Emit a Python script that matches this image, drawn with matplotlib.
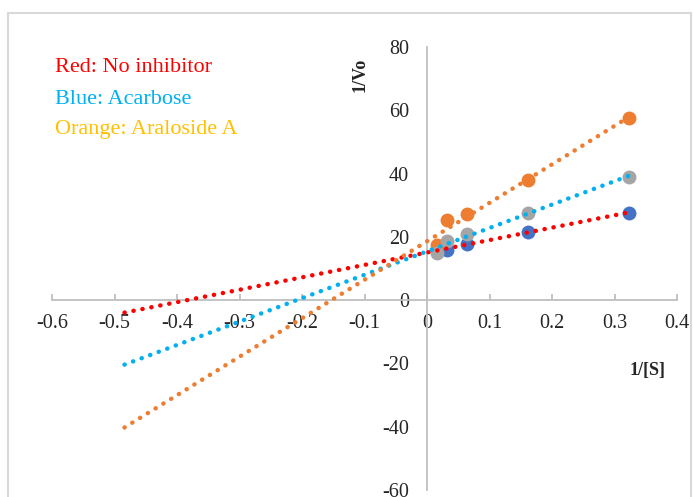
import numpy as np
import matplotlib
matplotlib.use("Agg")
import matplotlib.pyplot as plt
from matplotlib.patches import Rectangle

# ---- data ----
inv_s = [0.016, 0.032, 0.064, 0.161, 0.323]
no_inhibitor = [15.6, 16.0, 17.9, 21.6, 27.6]
acarbose = [15.0, 18.7, 20.8, 27.6, 39.0]
araloside_a = [17.3, 25.3, 27.2, 37.9, 57.7]

x_ticks = [-0.6, -0.5, -0.4, -0.3, -0.2, -0.1, 0, 0.1, 0.2, 0.3, 0.4]
x_tick_labels = ["-0.6", "-0.5", "-0.4", "-0.3", "-0.2", "-0.1", "0", "0.1", "0.2", "0.3", "0.4"]
y_ticks = [-60, -40, -20, 0, 20, 40, 60, 80]
y_tick_labels = ["-60", "-40", "-20", "0", "20", "40", "60", "80"]
legend_lines = ["Red: No inhibitor", "Blue: Acarbose", "Orange: Araloside A"]
backward_forecast = 0.5

plt.rcParams['font.family'] = ['Liberation Serif', 'DejaVu Serif']

W, H = 693, 497
fig = plt.figure(figsize=(W / 100, H / 100), dpi=100)
fig.patch.set_facecolor('white')

# outer chart border
fig.patches.append(Rectangle((8 / W, -0.1), (691 - 8) / W, (497 - 13) / H + 0.1,
                             transform=fig.transFigure, fill=False,
                             edgecolor='#D9D9D9', linewidth=1.5, zorder=0))

ax = fig.add_axes([52 / W, 7 / H, (677 - 52) / W, (490 - 47) / H])
ax.set_xlim(-0.6, 0.4)
ax.set_ylim(-60, 80)
ax.patch.set_alpha(0)

for s in ['top', 'right']:
    ax.spines[s].set_visible(False)
ax.spines['left'].set_position(('data', 0))
ax.spines['bottom'].set_position(('data', 0))
for s in ['left', 'bottom']:
    ax.spines[s].set_color('#BFBFBF')
    ax.spines[s].set_linewidth(1.3)

ax.set_xticks(x_ticks)
ax.set_xticklabels(x_tick_labels, fontsize=14.5)
ax.set_yticks(y_ticks)
ax.set_yticklabels(y_tick_labels, fontsize=14.5)
ax.tick_params(axis='x', direction='in', length=4, width=1.3, color='#BFBFBF', pad=10, colors='#BFBFBF', labelcolor='#262626')
ax.tick_params(axis='y', length=0, pad=13, labelcolor='#262626')

# markers
ax.plot(inv_s, no_inhibitor, 'o', color='#4472C4', markersize=9, zorder=3)
ax.plot(inv_s, araloside_a, 'o', color='#ED7D31', markersize=9, zorder=3)
ax.plot(inv_s, acarbose, 'o', color='#A5A5A5', markersize=9, zorder=3)

# linear trendlines with backward forecast
dot = (0, (0.05, 2.0))
for ys, col in [(no_inhibitor, '#FF0000'), (acarbose, '#00B0F0'), (araloside_a, '#ED7D31')]:
    k, b = np.polyfit(inv_s, ys, 1)
    xs = np.array([min(inv_s) - backward_forecast, max(inv_s)])
    ax.plot(xs, k * xs + b, linestyle=dot, color=col, linewidth=3.2,
            dash_capstyle='round', zorder=4)

# axis titles
fig.text(360 / W, 1 - 75 / H, "1/Vo", rotation=90, fontsize=13, fontweight='bold',
         ha='center', va='center', color='#262626')
fig.text(648 / W, 1 - 371 / H, "1/[S]", fontsize=13, fontweight='bold',
         ha='center', va='center', color='#262626')

# legend-like text
for txt, col, yy in zip(legend_lines, ['#FF0000', '#00B0F0', '#FFC000'], [68, 99, 130]):
    fig.text(55 / W, 1 - yy / H, txt, fontsize=16, color=col, ha='left', va='center')

fig.savefig('out.png', dpi=100)
